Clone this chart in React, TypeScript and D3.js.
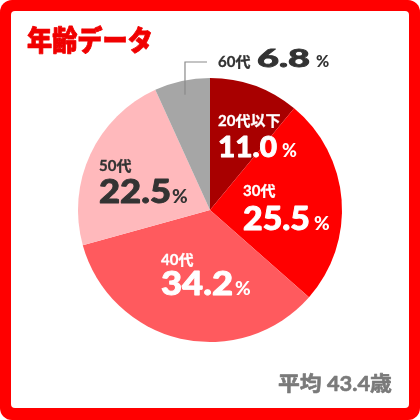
import React, { useLayoutEffect, useRef, useState } from "react";
import * as d3 from "d3";

const categories = ["20代以下", "30代", "40代", "50代", "60代"];
const values = [11.0, 25.5, 34.2, 22.5, 6.8];
const valueLabels = ["11.0", "25.5", "34.2", "22.5", "6.8"];
const title = "年齢データ";
const averageLabel = "平均 43.4歳";

const sliceColors = ["#a80000", "#ff0000", "#ff5a5e", "#ffb9bc", "#a6a6a6"];
const textColors = ["#ffffff", "#ffffff", "#ffffff", "#333333", "#333333"];

// label layout: left x, category baseline, number baseline, number width, number font, percent x
const labelLayout = [
  { x: 218, ly: 126, ny: 157, nw: 59, nf: 29, px: 282, pf: 18 },
  { x: 243, ly: 196, ny: 230, nw: 67, nf: 32, px: 314, pf: 19 },
  { x: 161, ly: 265, ny: 295, nw: 72, nf: 32, px: 235, pf: 19 },
  { x: 99, ly: 171, ny: 203, nw: 72, nf: 32, px: 172, pf: 19 },
];

const W = 420;
const H = 420;
const cx = 210;
const cy = 210;
const R = 132;
const FONT = "'Noto Sans CJK JP', 'Noto Sans', sans-serif";
const NUMFONT = "Lato, 'Noto Sans CJK JP', sans-serif";

function FitText(props: {
  x: number;
  y: number;
  width: number;
  fontSize: number;
  fontWeight?: number;
  fill?: string;
  fontFamily?: string;
  bold?: number;
  children: string;
}) {
  const { x, y, width, fontSize, fontWeight, fill, fontFamily, bold, children } = props;
  const ref = useRef<SVGTextElement>(null);
  const [sx, setSx] = useState(1);
  useLayoutEffect(() => {
    if (ref.current) {
      const w = ref.current.getComputedTextLength();
      if (w > 0) setSx(width / w);
    }
  }, [width, fontSize, children]);
  return (
    <text
      ref={ref}
      x={0}
      y={0}
      transform={`translate(${x},${y}) scale(${sx},1)`}
      fontSize={fontSize}
      fontWeight={fontWeight}
      fill={fill}
      fontFamily={fontFamily}
      stroke={bold ? "currentColor" : undefined}
      strokeWidth={bold || undefined}
      strokeLinejoin="round"
    >
      {children}
    </text>
  );
}

export default function App() {
  const pie = d3
    .pie<number>()
    .sort(null)
    .value((d) => d)
    .startAngle(0)
    .endAngle(2 * Math.PI);
  const arcs = pie(values);
  const arcGen = d3.arc<d3.PieArcDatum<number>>().innerRadius(0).outerRadius(R);
  const leaderArc = d3.arc<d3.PieArcDatum<number>>().innerRadius(118).outerRadius(118);
  const last = arcs[4];
  const [lx0, ly0] = leaderArc.centroid(last);
  const leaderTop = 62;

  return (
    <svg
      width={W}
      height={H}
      viewBox={`0 0 ${W} ${H}`}
      style={{ position: "fixed", left: 0, top: 0, fontFamily: FONT }}
    >
      <rect x={0} y={0} width={W} height={H} rx={12} fill="#ff0000" />
      <rect x={11} y={11} width={W - 22} height={H - 23} rx={4} fill="#ffffff" />
      <g style={{ color: "#f00000" }}>
        <FitText x={27} y={51} width={126} fontSize={28} fontWeight={900} fill="#f00000" bold={0.8}>
          {title}
        </FitText>
      </g>
      <g transform={`translate(${cx},${cy})`}>
        {arcs.map((a, i) => (
          <path key={i} d={arcGen(a) || ""} fill={sliceColors[i]} />
        ))}
      </g>
      <polyline
        points={`${cx + lx0},${cy + ly0} ${cx + lx0},${leaderTop} ${cx + lx0 + 22},${leaderTop}`}
        fill="none"
        stroke="#8a8a8a"
        strokeWidth={1.2}
      />
      {labelLayout.map((l, i) => (
        <g key={i} fill={textColors[i]} style={{ color: textColors[i] }} fontWeight={700} fontFamily={NUMFONT}>
          <text x={l.x} y={l.ly} fontSize={15} stroke="currentColor" strokeWidth={0.3}>
            {categories[i]}
          </text>
          <FitText
            x={l.x}
            y={l.ny}
            width={l.nw}
            fontSize={l.nf}
            fontWeight={900}
            fontFamily={NUMFONT}
            bold={0.9}
          >
            {valueLabels[i]}
          </FitText>
          <text x={l.px} y={l.ny} fontSize={l.pf} fontWeight={900}>
            %
          </text>
        </g>
      ))}
      <g fill={textColors[4]} style={{ color: textColors[4] }} fontWeight={700} fontFamily={NUMFONT}>
        <text x={218} y={67} fontSize={15} stroke="currentColor" strokeWidth={0.3}>
          {categories[4]}
        </text>
        <FitText x={257} y={67} width={53} fontSize={24} fontWeight={900} fontFamily={NUMFONT} bold={0.8}>
          {valueLabels[4]}
        </FitText>
        <text x={316} y={67} fontSize={16} fontWeight={900}>
          %
        </text>
      </g>
      <g style={{ color: "#7a7a7a" }}>
        <FitText
          x={278}
          y={391}
          width={114}
          fontSize={20}
          fontWeight={700}
          fill="#7a7a7a"
          fontFamily={NUMFONT}
          bold={0.6}
        >
          {averageLabel}
        </FitText>
      </g>
    </svg>
  );
}
